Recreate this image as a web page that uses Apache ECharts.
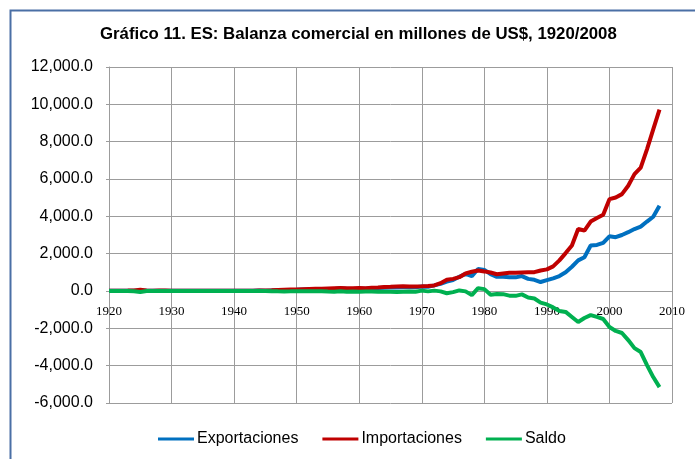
<!DOCTYPE html>
<html>
<head>
<meta charset="utf-8">
<script src="https://cdn.jsdelivr.net/npm/echarts@6/dist/echarts.min.js"></script>
<style>
  html, body { margin: 0; padding: 0; background: #fff; }
  #chart { width: 695px; height: 459px; }
</style>
</head>
<body>
<div id="chart"></div>
<script>
  // años 1920-2008
  var years = [
    1920, 1921, 1922, 1923, 1924, 1925, 1926, 1927, 1928, 1929,
    1930, 1931, 1932, 1933, 1934, 1935, 1936, 1937, 1938, 1939,
    1940, 1941, 1942, 1943, 1944, 1945, 1946, 1947, 1948, 1949,
    1950, 1951, 1952, 1953, 1954, 1955, 1956, 1957, 1958, 1959,
    1960, 1961, 1962, 1963, 1964, 1965, 1966, 1967, 1968, 1969,
    1970, 1971, 1972, 1973, 1974, 1975, 1976, 1977, 1978, 1979,
    1980, 1981, 1982, 1983, 1984, 1985, 1986, 1987, 1988, 1989,
    1990, 1991, 1992, 1993, 1994, 1995, 1996, 1997, 1998, 1999,
    2000, 2001, 2002, 2003, 2004, 2005, 2006, 2007, 2008
  ];

  // millones de US$
  var exportaciones = [
    15, 12, 15, 18, 20, 18, 20, 17, 20, 18,
    15, 12, 8, 8, 10, 11, 10, 14, 11, 12,
    12, 11, 16, 20, 22, 20, 30, 40, 45, 55,
    67, 85, 90, 95, 105, 107, 110, 138, 115, 113,
    117, 119, 137, 154, 178, 189, 189, 207, 212, 202,
    236, 228, 300, 380, 500, 590, 760, 920, 800, 1180,
    1130, 900, 760, 760, 740, 730, 800, 650, 600, 480,
    580, 680, 800, 1000, 1300, 1640, 1810, 2440, 2470, 2580,
    2930, 2880, 3000, 3150, 3320, 3450, 3720, 3980, 4570
  ];

  var importaciones = [
    18, 15, 18, 22, 30, 70, 25, 20, 25, 22,
    18, 14, 9, 9, 12, 12, 12, 16, 13, 13,
    13, 12, 16, 20, 22, 22, 40, 60, 70, 75,
    80, 95, 105, 115, 125, 135, 145, 155, 150, 145,
    160, 150, 170, 190, 220, 230, 245, 250, 245, 240,
    250, 270, 300, 420, 600, 650, 740, 940, 1030, 1100,
    1050, 990, 900, 940, 980, 980, 990, 1000, 1010, 1100,
    1160, 1320, 1640, 2030, 2440, 3320, 3240, 3720, 3910, 4090,
    4920, 5010, 5190, 5640, 6260, 6610, 7590, 8660, 9720
  ];

  var saldo = [
    -3, -3, -3, -4, -10, -50, -5, -3, -5, -4,
    -3, -2, -1, -1, -2, -1, -2, -2, -2, -1,
    -1, -1, 0, 0, 0, -2, -10, -20, -25, -20,
    -13, -10, -15, -20, -20, -28, -35, -17, -35, -32,
    -43, -31, -33, -36, -42, -41, -56, -43, -33, -38,
    20, -20, 20, -20, -120, -60, 30, -20, -220, 150,
    100, -200, -160, -170, -250, -260, -180, -350, -400, -620,
    -720, -880, -1070, -1120, -1390, -1660, -1450, -1290, -1390, -1500,
    -1930, -2140, -2250, -2630, -3060, -3270, -3970, -4610, -5150
  ];

  function pares(vals) {
    return years.map(function (y, i) { return [y, vals[i]]; });
  }

  var colors = ['#0070C0', '#C00000', '#00B050'];
  var gridColor = '#9c9c9c';
  var sans = '"Liberation Sans", Arial, sans-serif';

  var myChart = echarts.init(document.getElementById('chart'));
  var option = {
    animation: false,
    color: colors,
    title: {
      text: 'Gráfico 11. ES: Balanza comercial en millones de US$, 1920/2008',
      left: 95,
      top: 21,
      textStyle: {
        fontFamily: sans,
        fontSize: 16.8,
        fontWeight: 'bold',
        color: '#000'
      }
    },
    legend: {
      bottom: 12,
      left: 158,
      padding: 0,
      itemWidth: 36,
      itemHeight: 3,
      itemGap: 24,
      icon: 'rect',
      textStyle: {
        fontFamily: sans,
        fontSize: 16,
        color: '#000',
        padding: [0, 0, 0, -2]
      },
      data: ['Exportaciones', 'Importaciones', 'Saldo']
    },
    grid: {
      left: 109,
      right: 23,
      top: 67,
      bottom: 56
    },
    xAxis: {
      type: 'value',
      min: 1920,
      max: 2010,
      interval: 10,
      // el eje cruza en 0 del eje Y
      offset: -112,
      axisLine: { onZero: false, lineStyle: { color: gridColor } },
      axisTick: { show: false },
      axisLabel: {
        margin: 14,
        fontFamily: '"Liberation Serif", "Times New Roman", serif',
        fontSize: 13,
        color: '#000',
        showMinLabel: true,
        showMaxLabel: true,
        formatter: function (v) { return String(v); }
      },
      splitLine: { show: true, lineStyle: { color: gridColor } }
    },
    yAxis: {
      type: 'value',
      min: -6000,
      max: 12000,
      interval: 2000,
      axisLine: { show: true, onZero: false, lineStyle: { color: gridColor } },
      axisTick: { show: true, length: 3, lineStyle: { color: gridColor } },
      axisLabel: {
        margin: 16,
        fontFamily: sans,
        fontSize: 16,
        color: '#000',
        formatter: function (v) {
          return v.toLocaleString('en-US', { minimumFractionDigits: 1, maximumFractionDigits: 1 });
        }
      },
      splitLine: { show: true, lineStyle: { color: gridColor } }
    },
    graphic: [
      {
        type: 'rect',
        left: 8,
        top: 8,
        shape: { width: 720, height: 480 },
        style: { fill: 'none', stroke: '#4a6fa5', lineWidth: 2 },
        silent: true
      }
    ],
    series: [
      {
        name: 'Exportaciones',
        type: 'line',
        showSymbol: false,
        lineStyle: { width: 4, color: colors[0] },
        data: pares(exportaciones)
      },
      {
        name: 'Importaciones',
        type: 'line',
        showSymbol: false,
        lineStyle: { width: 4, color: colors[1] },
        data: pares(importaciones)
      },
      {
        name: 'Saldo',
        type: 'line',
        showSymbol: false,
        lineStyle: { width: 4, color: colors[2] },
        data: pares(saldo)
      }
    ]
  };
  myChart.setOption(option);
</script>
</body>
</html>
